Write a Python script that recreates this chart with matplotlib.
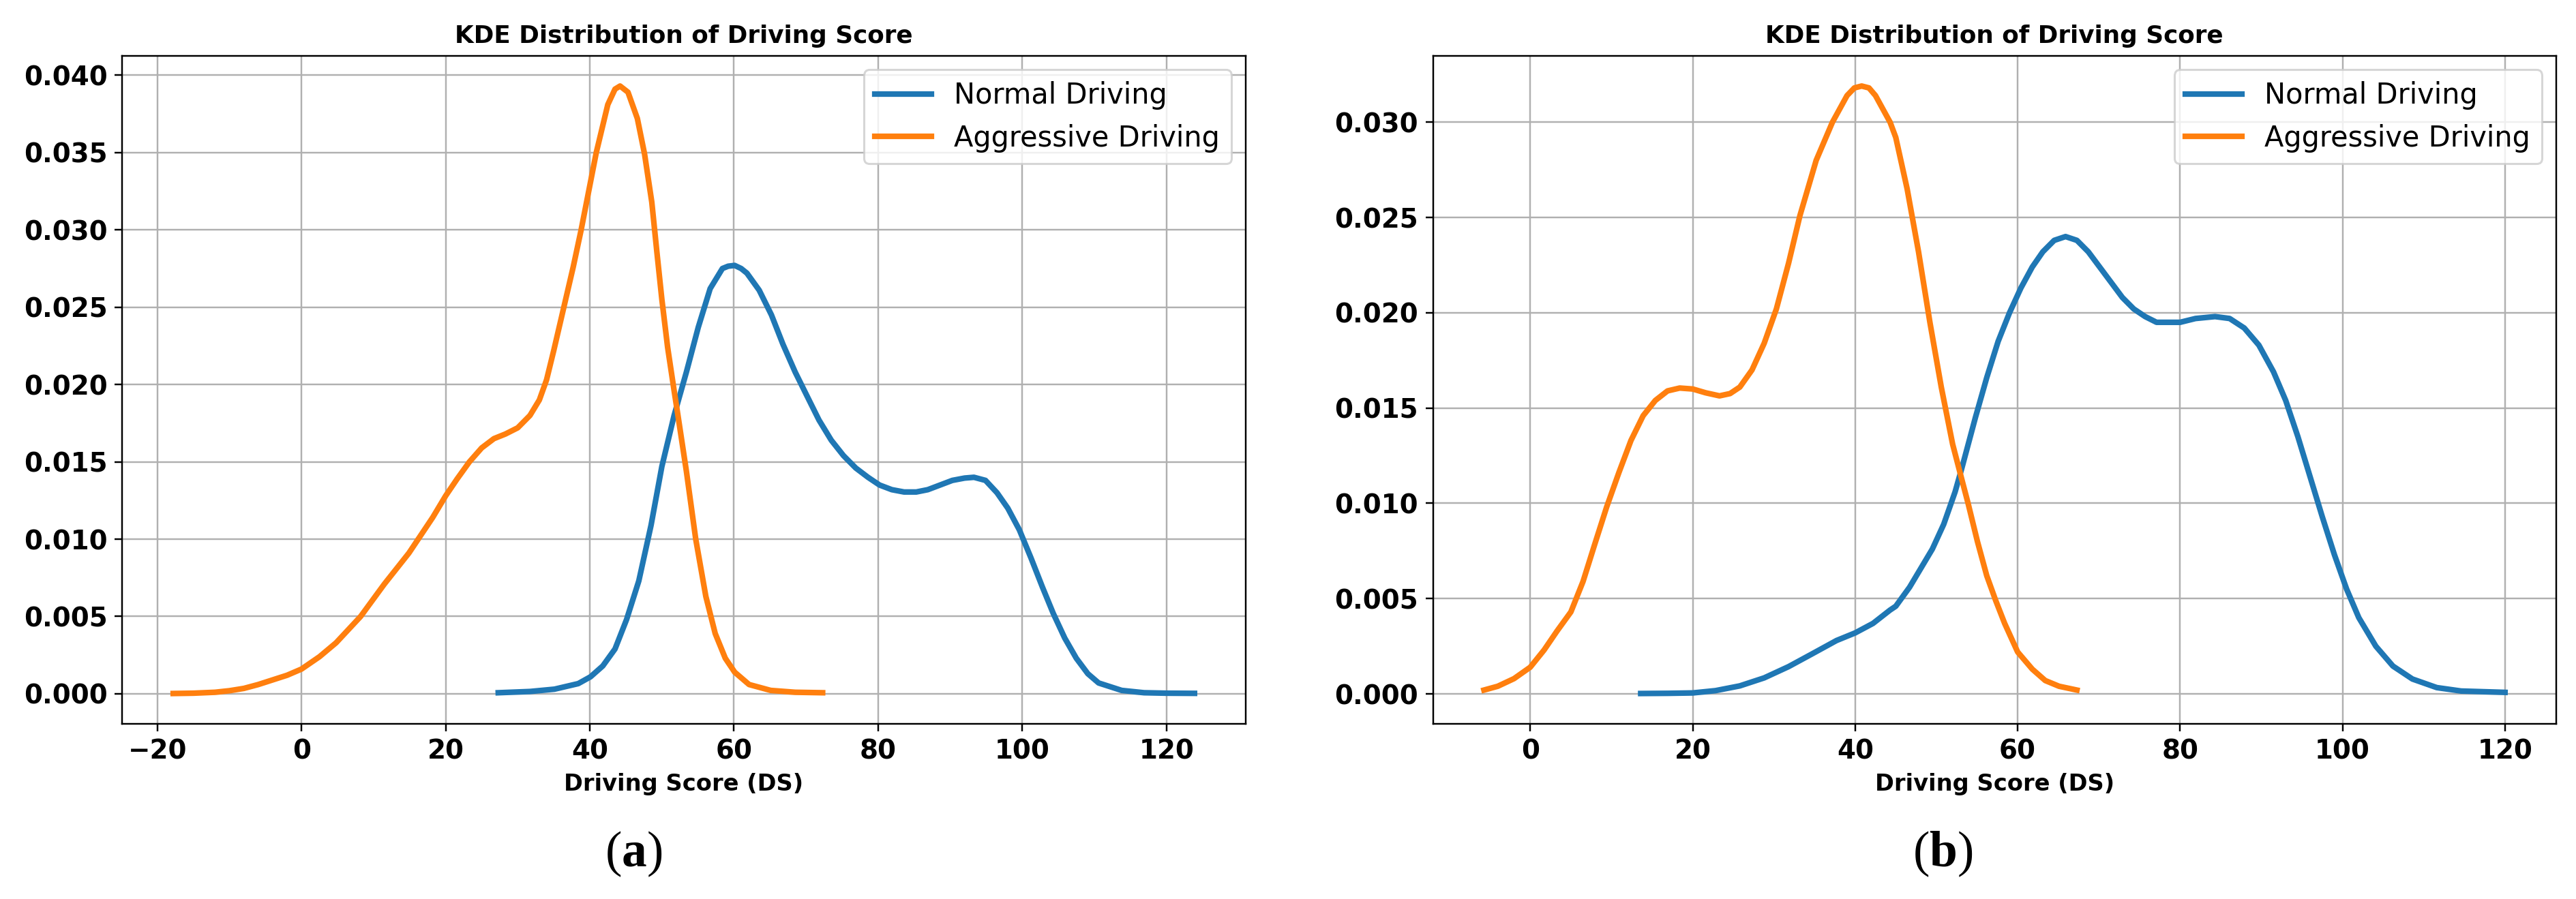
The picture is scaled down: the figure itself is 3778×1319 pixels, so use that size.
import numpy as np
import matplotlib
matplotlib.use('Agg')
import matplotlib.pyplot as plt

# values
# (a) left panel
normal_a_x = [27.3, 31.7, 35.1, 38.4, 40.1, 41.8, 43.5, 45.1, 46.8, 48.5, 50.0, 51.7, 53.4,
              55.05, 56.7, 58.4, 59.2, 60.1, 61.0, 61.8, 63.5, 65.2, 66.8, 68.5, 70.2, 71.8,
              73.5, 75.2, 76.9, 78.6, 80.2, 81.9, 83.6, 85.3, 86.9, 88.6, 90.3, 92.0, 93.3,
              94.9, 96.5, 98.0, 99.6, 101.2, 102.8, 104.3, 105.9, 107.5, 109.1, 110.6, 113.8,
              116.9, 120.0, 123.9]
normal_a_y = [0.00007, 0.00015, 0.0003, 0.00066, 0.0011, 0.0018, 0.0029, 0.0048, 0.0073,
              0.0109, 0.0147, 0.0180, 0.0208, 0.0237, 0.0262, 0.0275, 0.02765, 0.0277, 0.0275,
              0.0272, 0.0261, 0.0245, 0.0226, 0.0208, 0.0192, 0.0177, 0.0164, 0.0154, 0.0146,
              0.0140, 0.0135, 0.0132, 0.01305, 0.01305, 0.0132, 0.0135, 0.0138, 0.01395,
              0.0140, 0.0138, 0.0130, 0.0120, 0.0106, 0.0088, 0.0069, 0.0052, 0.0036, 0.0023,
              0.0013, 0.0007, 0.00022, 0.00007, 0.00004, 0.00003]

aggr_a_x = [-17.8, -15, -12, -10, -8, -6, -4, -2, 0, 2.5, 4.8, 8.2, 11.5, 14.9, 18.2, 20,
            21.6, 23.3, 25, 26.7, 28.3, 30, 31.7, 33, 34, 35, 36.5, 37.7, 38.8, 40.9, 42.5,
            43.5, 44.2, 45.3, 46.6, 47.6, 48.6, 49.3, 50.0, 50.8, 51.7, 52.2, 53.4, 54.7,
            56.1, 57.4, 58.8, 60.1, 62.1, 65.1, 68.5, 72.3]
aggr_a_y = [0.00002, 0.00004, 0.0001, 0.0002, 0.00035, 0.0006, 0.0009, 0.0012, 0.0016,
            0.0024, 0.0033, 0.0050, 0.0071, 0.0091, 0.0114, 0.0128, 0.0139, 0.0150, 0.0159,
            0.0165, 0.0168, 0.0172, 0.0180, 0.0190, 0.0203, 0.0222, 0.0252, 0.0276, 0.0300,
            0.0350, 0.0381, 0.0391, 0.0393, 0.0389, 0.0372, 0.0349, 0.0318, 0.0286, 0.0255,
            0.0224, 0.0196, 0.0181, 0.0144, 0.0100, 0.0063, 0.0039, 0.0023, 0.0014, 0.0006,
            0.00022, 0.0001, 0.00007]

# (b) right panel
normal_b_x = [13.6, 17, 20, 22.8, 25.8, 28.8, 31.8, 34.7, 37.7, 40, 42.2, 44.3, 45.0, 46.7,
              48.1, 49.5, 50.9, 52.3, 53.1, 54.8, 56.2, 57.6, 59.0, 60.4, 61.8, 63.1, 64.5,
              65.9, 67.3, 68.7, 70.1, 71.5, 72.9, 74.3, 75.7, 77.1, 78.4, 80.0, 81.9, 84.3,
              86.1, 87.9, 89.7, 91.5, 93.0, 94.5, 96.0, 97.5, 99.0, 100.5, 102.0, 104.1,
              106.2, 108.6, 111.6, 114.6, 120.0]
normal_b_y = [0.00002, 0.00003, 0.00005, 0.00017, 0.00042, 0.00084, 0.00143, 0.0021, 0.0028,
              0.0032, 0.0037, 0.0044, 0.0046, 0.0056, 0.0066, 0.0076, 0.0089, 0.0106, 0.0118,
              0.0145, 0.0166, 0.0185, 0.0200, 0.0213, 0.0224, 0.0232, 0.0238, 0.0240, 0.0238,
              0.0232, 0.0224, 0.0216, 0.0208, 0.0202, 0.0198, 0.0195, 0.0195, 0.0195, 0.0197,
              0.0198, 0.0197, 0.0192, 0.0183, 0.0169, 0.0154, 0.0135, 0.0114, 0.0093, 0.0073,
              0.0055, 0.0040, 0.0025, 0.00146, 0.00078, 0.00033, 0.00015, 0.00008]

aggr_b_x = [-5.7, -4, -2, 0, 1.7, 3.3, 5.0, 6.5, 7.9, 9.4, 10.9, 12.4, 13.9, 15.4, 16.9, 18.4,
            20.0, 21.6, 23.3, 24.6, 25.8, 27.3, 28.8, 30.3, 31.8, 33.2, 35.2, 37.2, 39.0,
            39.9, 40.8, 41.7, 42.5, 44.3, 45.0, 46.4, 47.8, 49.2, 50.6, 52.0, 53.1, 53.9,
            55.05, 56.2, 57.3, 58.4, 60.0, 61.8, 63.4, 65.1, 67.3]
aggr_b_y = [0.0002, 0.0004, 0.0008, 0.0014, 0.0023, 0.0033, 0.0043, 0.0059, 0.0078, 0.0098,
            0.0116, 0.0133, 0.0146, 0.0154, 0.0159, 0.01605, 0.0160, 0.0158, 0.01564, 0.01576,
            0.0161, 0.0170, 0.0184, 0.0202, 0.0226, 0.0251, 0.0280, 0.0300, 0.0314, 0.0318,
            0.0319, 0.0318, 0.0314, 0.0300, 0.0292, 0.0265, 0.0232, 0.0195, 0.0161, 0.0131,
            0.0113, 0.0100, 0.0080, 0.0062, 0.0049, 0.0037, 0.0022, 0.0013, 0.0007, 0.0004,
            0.0002]

labels = ['Normal Driving', 'Aggressive Driving']
captions = ['a', 'b']

plt.rcParams['font.family'] = ['DejaVu Sans']
plt.rcParams['font.weight'] = 'bold'
plt.rcParams['mathtext.fontset'] = 'custom'
plt.rcParams['mathtext.rm'] = 'Liberation Serif'
plt.rcParams['mathtext.bf'] = 'Liberation Serif:bold'

DPI = 220
fig = plt.figure(figsize=(3779 / DPI, 1319 / DPI), dpi=DPI)
ax1 = fig.add_axes([0.0474, 0.1948, 0.4360, 0.7433])
ax2 = fig.add_axes([0.5561, 0.1948, 0.4359, 0.7433])

panels = [(ax1, normal_a_x, normal_a_y, aggr_a_x, aggr_a_y),
          (ax2, normal_b_x, normal_b_y, aggr_b_x, aggr_b_y)]

for ax, nx, ny, gx, gy in panels:
    ax.plot(nx, ny, color='#1f77b4', lw=2.7, label=labels[0])
    ax.plot(gx, gy, color='#ff7f0e', lw=2.7, label=labels[1])
    ax.grid(True)
    ax.set_title('KDE Distribution of Driving Score', fontsize=11.7, fontweight='bold')
    ax.set_xlabel('Driving Score (DS)', fontsize=11, fontweight='bold')
    ax.tick_params(labelsize=12.7)
    ax.legend(loc='upper right', prop={'size': 13.6, 'weight': 'normal'})

# sub-figure captions
cap_x = [0.2458, 0.7539]
for cx, c in zip(cap_x, captions):
    fig.text(cx, 0.050, '(' + r'$\mathbf{' + c + '}$' + ')', ha='center', va='center',
             fontsize=24, fontweight='normal', family='Liberation Serif')

fig.savefig('out.png', dpi=DPI)
